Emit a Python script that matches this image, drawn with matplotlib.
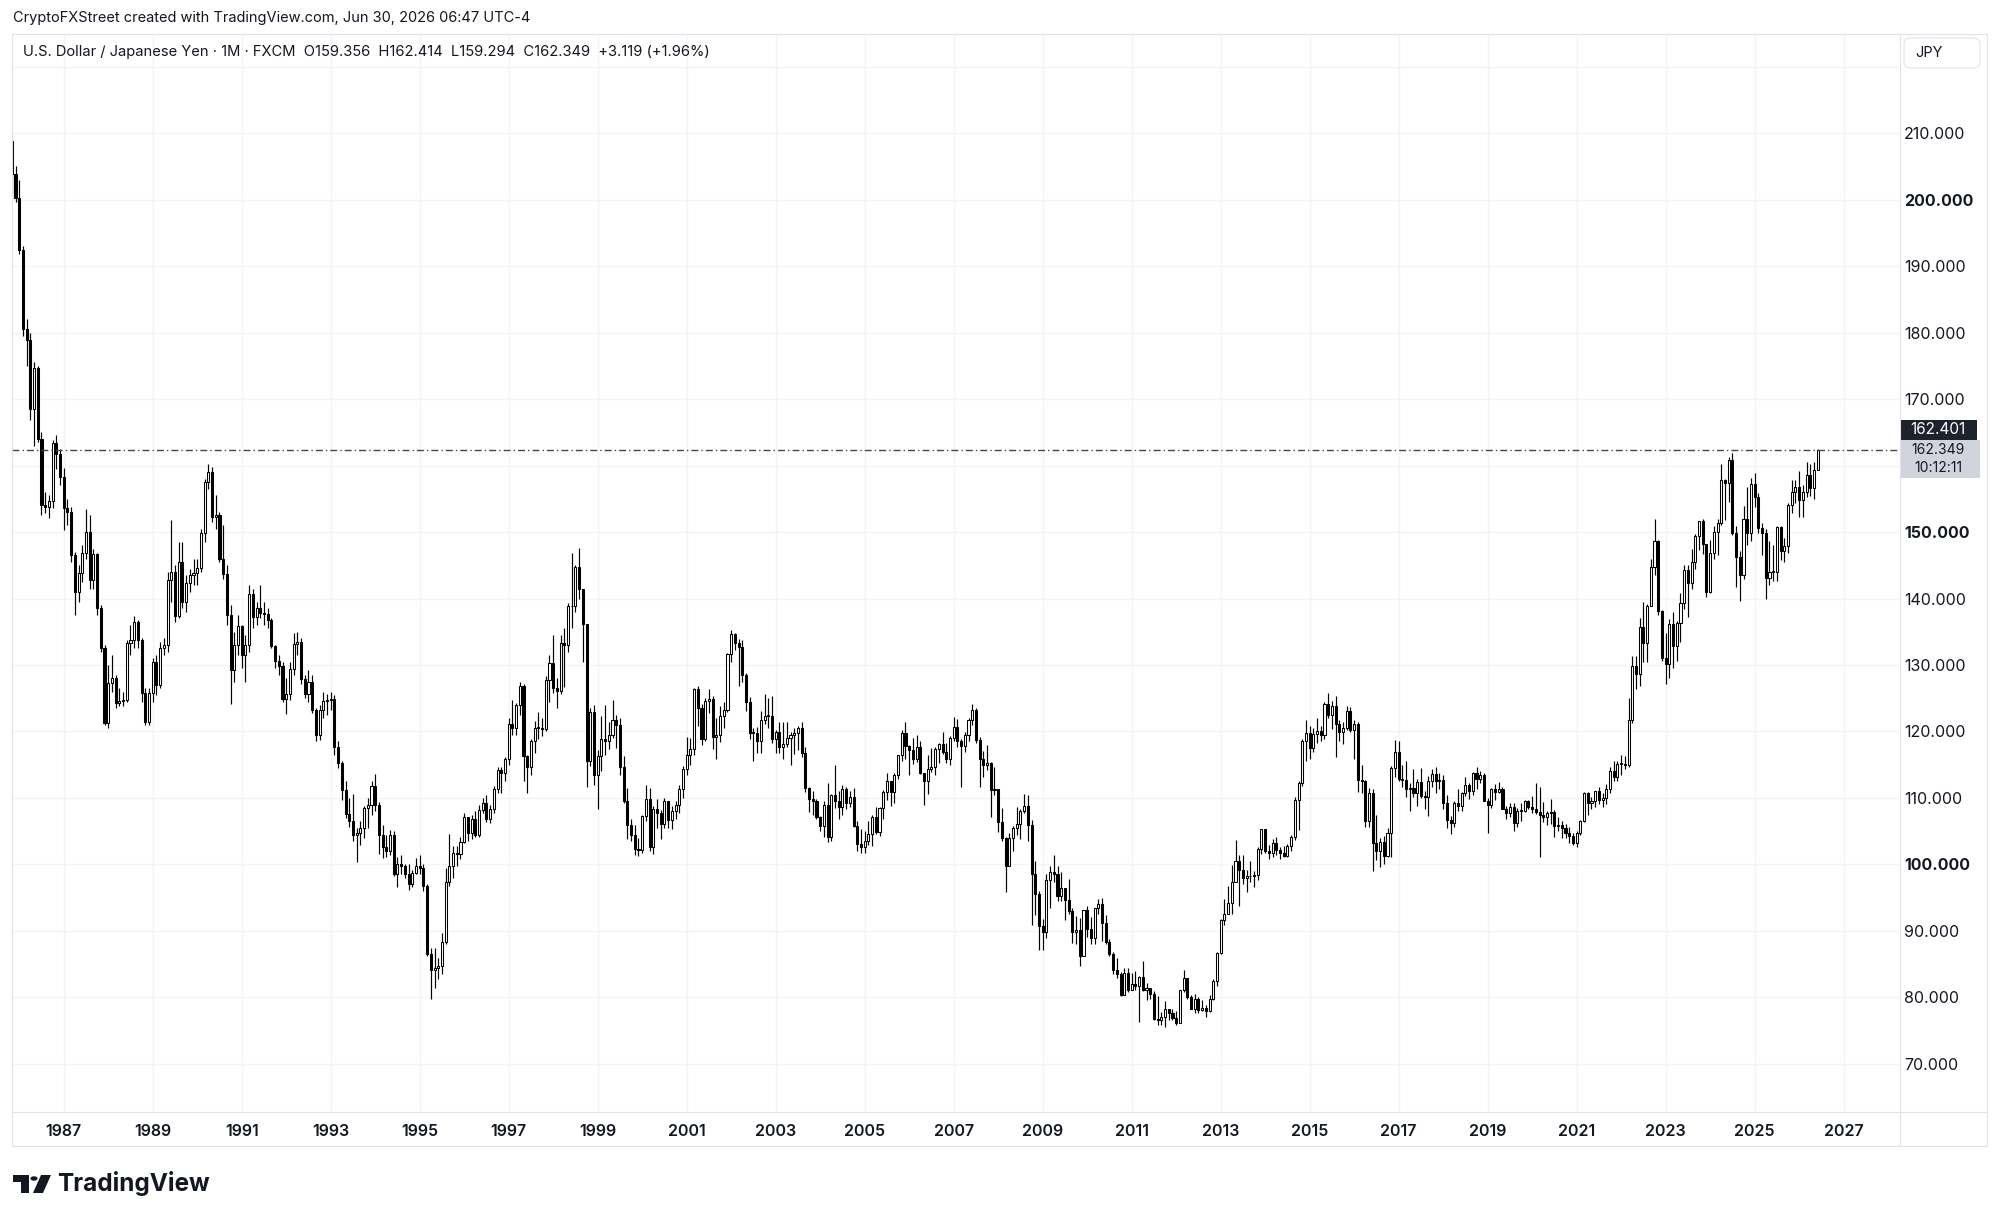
"""USD/JPY monthly candles, FXCM, Nov 1985 - Jun 2026 (TradingView look)."""

import matplotlib

matplotlib.use("Agg")
import matplotlib.pyplot as plt
import numpy as np
from matplotlib.lines import Line2D
from matplotlib.patches import Circle, FancyBboxPatch, Polygon, Rectangle

W, H = 2000, 1221
plt.rcParams["font.family"] = ["Inter", "DejaVu Sans"]

TITLE = "CryptoFXStreet created with TradingView.com, Jun 30, 2026 06:47 UTC-4"
LEGEND = ("U.S. Dollar / Japanese Yen \u00b7 1M \u00b7 FXCM  O159.356  H162.414  "
          "L159.294  C162.349  +3.119 (+1.96%)")
CURRENCY = "JPY"
LAST_PRICE = 162.349
HIGH_TAG = "162.401"
COUNTDOWN = "10:12:11"
OPEN_FIRST = 208.8  # open of the first (Nov 1985) candle

# monthly closes, one row per year; first row is Nov-Dec 1985, last is Jan-Jun 2026
CLOSE = [
    203.8, 200.3,
    192.4, 180.6, 178.8, 168.5, 174.6, 164.0, 154.0, 153.8, 154.7, 163.4, 161.8, 158.2,
    153.6, 153.0, 146.5, 141.0, 143.8, 146.8, 150.0, 142.8, 146.7, 138.6, 132.6, 121.3,
    127.3, 128.0, 124.3, 124.6, 124.8, 133.3, 133.8, 136.5, 133.8, 125.8, 121.4, 125.8,
    130.5, 127.0, 132.5, 133.0, 142.8, 144.0, 137.3, 145.5, 139.5, 142.3, 143.5, 143.8,
    144.6, 149.8, 157.5, 159.0, 152.3, 152.6, 146.0, 143.7, 137.5, 129.3, 133.0, 135.8,
    131.5, 133.0, 140.7, 137.2, 138.5, 137.8, 137.7, 136.7, 132.9, 130.6, 129.8, 124.9,
    125.6, 129.4, 133.1, 133.4, 127.9, 125.6, 127.4, 123.3, 119.4, 123.3, 124.6, 124.8,
    124.9, 117.7, 115.3, 111.2, 107.6, 106.5, 104.5, 104.7, 105.5, 108.5, 109.0, 111.8,
    109.0, 104.5, 102.6, 102.0, 104.5, 98.6, 100.0, 99.7, 98.5, 97.0, 98.7, 99.7,
    99.5, 96.8, 86.6, 84.2, 84.5, 84.7, 88.3, 97.3, 99.8, 101.8, 101.6, 103.4,
    107.1, 104.8, 106.8, 104.5, 108.2, 109.3, 106.8, 108.4, 111.4, 114.2, 113.7, 115.8,
    121.1, 120.5, 124.0, 126.8, 116.3, 114.6, 118.5, 120.6, 120.6, 120.4, 127.8, 130.3,
    126.6, 126.1, 133.3, 133.0, 138.9, 138.8, 144.7, 141.5, 136.2, 115.5, 123.0, 113.4,
    116.3, 118.8, 118.6, 119.5, 121.7, 121.0, 114.6, 109.6, 106.0, 104.5, 102.3, 102.2,
    107.3, 109.9, 102.6, 108.3, 107.7, 106.1, 109.5, 106.7, 108.1, 108.9, 111.3, 114.4,
    116.5, 117.3, 126.4, 123.6, 118.9, 124.6, 124.9, 119.1, 119.4, 122.3, 123.3, 131.6,
    134.6, 133.3, 132.7, 128.5, 124.4, 119.8, 119.8, 118.6, 121.8, 122.4, 122.4, 118.8,
    119.9, 117.6, 118.1, 119.0, 119.4, 119.8, 120.5, 116.8, 111.5, 109.8, 109.6, 107.2,
    105.8, 109.0, 104.2, 110.4, 109.5, 108.7, 111.3, 109.2, 110.1, 105.8, 103.1, 102.6,
    103.6, 104.6, 107.2, 104.9, 108.5, 110.9, 112.6, 110.9, 113.4, 116.4, 119.7, 117.8,
    117.2, 115.8, 117.7, 113.8, 112.6, 114.4, 114.6, 117.3, 118.1, 116.9, 115.8, 119.0,
    120.7, 118.6, 117.8, 119.5, 121.7, 123.2, 118.7, 115.8, 114.9, 115.3, 111.2, 111.4,
    106.4, 104.0, 99.7, 104.0, 105.5, 106.1, 108.1, 108.8, 106.0, 98.5, 95.5, 90.7,
    89.9, 97.6, 98.9, 98.6, 95.3, 96.4, 94.7, 93.0, 89.8, 90.1, 86.3, 93.1,
    90.3, 88.9, 93.5, 94.0, 91.2, 88.4, 86.5, 84.2, 83.5, 80.4, 83.7, 81.1,
    82.0, 81.8, 83.1, 81.2, 81.5, 80.5, 76.7, 76.6, 77.0, 78.2, 77.6, 76.9,
    76.2, 81.2, 82.9, 80.0, 78.3, 79.8, 78.1, 78.4, 77.9, 79.8, 82.5, 86.7,
    91.7, 92.6, 94.2, 97.4, 100.5, 99.1, 97.9, 98.2, 98.3, 98.4, 102.4, 105.3,
    102.0, 101.8, 103.2, 102.2, 101.8, 101.3, 102.8, 104.1, 109.7, 112.3, 118.6, 119.8,
    117.5, 119.6, 120.1, 119.4, 124.1, 122.5, 123.9, 121.2, 119.9, 120.6, 123.1, 120.2,
    121.1, 112.7, 112.6, 106.5, 110.7, 103.2, 102.1, 103.4, 101.3, 104.8, 114.5, 116.9,
    112.8, 112.7, 111.4, 111.5, 110.8, 112.4, 110.3, 110.1, 112.5, 113.6, 112.5, 112.7,
    109.2, 106.7, 106.3, 109.3, 108.8, 110.7, 111.9, 111.0, 113.7, 112.9, 113.5, 109.6,
    108.9, 111.4, 110.9, 111.4, 108.3, 107.8, 108.7, 106.3, 108.1, 108.0, 109.5, 108.6,
    108.4, 107.9, 107.5, 107.2, 107.8, 107.9, 105.8, 105.9, 105.5, 104.7, 104.3, 103.2,
    104.7, 106.6, 110.7, 109.3, 109.6, 111.1, 109.7, 110.0, 111.3, 114.0, 113.2, 115.1,
    115.1, 115.0, 121.7, 129.8, 128.7, 135.7, 133.3, 138.9, 144.7, 148.7, 138.1, 131.1,
    130.1, 136.2, 132.8, 136.3, 139.3, 144.3, 142.3, 145.5, 149.4, 151.7, 148.2, 141.0,
    146.9, 150.0, 151.3, 157.8, 157.3, 160.9, 149.9, 146.2, 143.6, 152.0, 149.8, 157.2,
    155.2, 150.6, 149.9, 143.1, 144.0, 144.0, 150.7, 147.1, 147.9, 154.0, 156.0, 156.7,
    154.8, 156.0, 158.6, 156.6, 159.356, 162.349,
]

HIGH = [
    208.8, 205.0,
    203.0, 193.0, 182.0, 180.0, 175.5, 175.0, 165.0, 156.0, 155.6, 163.8, 164.6, 162.5,
    159.6, 155.0, 153.8, 147.0, 145.0, 148.0, 153.5, 152.5, 147.5, 146.8, 139.0, 133.0,
    130.0, 131.5, 128.5, 126.5, 126.0, 133.8, 136.0, 137.3, 136.8, 134.0, 126.5, 126.5,
    131.0, 131.5, 133.5, 134.0, 144.0, 151.8, 145.0, 148.5, 148.5, 143.5, 144.5, 146.0,
    146.0, 150.5, 158.0, 160.3, 159.8, 155.5, 153.0, 151.0, 145.0, 139.0, 135.0, 137.5,
    136.0, 134.5, 142.0, 141.5, 139.5, 142.0, 139.5, 138.5, 137.0, 133.0, 131.5, 130.5,
    128.0, 130.5, 134.8, 135.0, 134.0, 128.5, 129.3, 128.5, 123.5, 124.0, 126.0, 125.7,
    126.0, 125.5, 118.5, 115.6, 112.5, 110.0, 110.6, 105.5, 106.5, 108.8, 110.0, 112.6,
    113.6, 109.4, 106.0, 104.5, 105.2, 105.0, 101.2, 101.5, 100.0, 100.0, 99.2, 101.0,
    101.5, 100.0, 97.0, 87.5, 87.5, 86.0, 89.7, 99.5, 104.6, 102.8, 102.8, 104.2,
    107.8, 107.2, 107.5, 108.0, 109.0, 110.0, 110.5, 109.0, 111.8, 114.6, 114.6, 116.2,
    122.0, 124.8, 124.3, 127.5, 127.1, 116.5, 118.8, 121.6, 123.0, 122.0, 128.3, 131.5,
    134.5, 128.0, 134.5, 135.6, 139.3, 146.8, 145.0, 147.6, 140.5, 136.0, 123.5, 124.0,
    117.2, 122.4, 124.0, 121.4, 124.7, 122.5, 122.0, 116.3, 111.5, 106.9, 106.0, 104.0,
    107.5, 112.0, 111.5, 108.8, 109.8, 108.2, 110.0, 109.5, 108.8, 109.5, 111.9, 114.8,
    119.2, 119.0, 126.5, 126.8, 124.2, 125.0, 126.4, 125.3, 122.0, 123.8, 124.4, 131.8,
    135.2, 134.8, 133.9, 133.8, 128.8, 125.2, 120.5, 120.7, 123.1, 125.7, 125.0, 125.3,
    120.2, 121.5, 121.4, 121.5, 119.9, 120.5, 120.9, 121.5, 117.6, 111.7, 111.1, 109.8,
    107.3, 109.6, 112.2, 110.6, 114.9, 111.0, 112.0, 111.7, 111.0, 111.5, 106.6, 105.3,
    105.0, 106.6, 107.4, 108.7, 108.6, 111.2, 113.8, 112.4, 113.8, 116.4, 120.2, 121.4,
    118.0, 119.0, 119.4, 118.6, 113.5, 116.5, 117.5, 117.7, 118.3, 119.9, 118.2, 119.3,
    122.2, 121.9, 118.9, 119.9, 122.1, 124.1, 123.6, 119.2, 117.0, 117.9, 115.4, 114.6,
    111.4, 108.5, 104.1, 104.8, 105.8, 108.6, 108.3, 110.6, 110.5, 106.7, 100.5, 96.0,
    91.8, 98.5, 99.8, 101.4, 99.8, 98.9, 96.1, 97.8, 93.4, 92.3, 91.9, 93.1,
    93.8, 92.1, 93.5, 94.8, 94.9, 92.4, 88.8, 86.9, 85.9, 83.8, 84.4, 84.5,
    83.7, 84.0, 83.3, 85.5, 82.2, 81.5, 81.0, 80.2, 77.8, 79.5, 78.3, 78.2,
    77.9, 81.2, 84.2, 83.0, 80.4, 80.6, 80.0, 79.6, 78.9, 80.3, 82.8, 86.8,
    91.8, 94.8, 96.7, 99.9, 103.7, 101.5, 101.5, 99.1, 100.6, 99.0, 102.6, 105.4,
    105.4, 103.0, 103.8, 104.1, 102.7, 102.8, 103.1, 104.5, 110.1, 112.5, 118.9, 121.8,
    120.8, 120.5, 122.0, 120.8, 124.5, 125.8, 124.6, 125.3, 121.7, 121.5, 123.8, 123.7,
    121.7, 121.5, 114.9, 112.7, 111.5, 111.4, 107.5, 104.0, 104.3, 105.5, 114.8, 118.7,
    118.6, 114.9, 115.5, 112.2, 114.4, 112.9, 114.5, 111.0, 113.3, 114.4, 114.7, 113.7,
    113.4, 110.5, 107.3, 109.6, 111.4, 110.9, 113.2, 112.2, 113.9, 114.6, 114.0, 113.8,
    110.0, 111.5, 112.1, 112.4, 111.7, 108.8, 109.3, 109.3, 108.5, 109.3, 109.7, 109.7,
    110.3, 112.2, 111.7, 109.4, 108.1, 109.9, 108.2, 107.1, 106.6, 106.1, 105.7, 104.8,
    105.0, 106.7, 110.9, 110.9, 110.2, 111.1, 111.7, 110.8, 112.1, 114.7, 115.5, 115.5,
    116.4, 116.3, 125.1, 131.3, 131.3, 137.0, 139.4, 139.1, 145.9, 151.9, 148.8, 138.2,
    134.8, 136.9, 137.9, 136.6, 140.9, 145.1, 145.0, 147.4, 149.7, 151.7, 151.9, 148.2,
    148.8, 150.9, 151.9, 160.2, 157.9, 161.3, 161.9, 150.9, 147.2, 153.9, 156.7, 158.1,
    158.9, 155.9, 151.3, 150.5, 148.6, 148.0, 150.9, 150.9, 149.1, 154.4, 157.8, 157.8,
    159.2, 157.0, 160.6, 160.2, 160.6, 162.414,
]

LOW = [
    200.1, 199.6,
    191.8, 179.5, 175.0, 166.8, 163.0, 163.5, 152.6, 152.8, 152.1, 153.6, 159.5, 157.0,
    150.3, 151.0, 145.5, 137.5, 139.5, 142.5, 146.0, 141.5, 141.5, 137.5, 132.0, 121.0,
    120.5, 126.0, 123.5, 123.8, 123.8, 124.5, 131.5, 132.5, 132.5, 124.5, 121.0, 121.0,
    124.5, 125.5, 126.5, 131.5, 132.0, 139.5, 136.5, 137.0, 138.5, 138.0, 141.0, 142.0,
    142.0, 144.0, 148.5, 156.5, 151.5, 150.5, 145.5, 143.0, 136.0, 124.2, 127.5, 131.5,
    129.5, 127.5, 132.0, 135.5, 136.0, 137.0, 136.0, 135.5, 132.5, 129.5, 128.5, 124.5,
    122.6, 124.8, 128.5, 131.5, 127.2, 125.0, 124.5, 122.8, 118.6, 118.7, 122.0, 122.5,
    123.3, 116.5, 114.5, 109.7, 107.0, 105.7, 103.5, 100.3, 103.0, 104.0, 105.5, 107.5,
    108.0, 101.6, 101.0, 101.2, 101.4, 98.2, 96.6, 98.6, 98.0, 96.2, 96.6, 98.6,
    98.5, 96.0, 86.3, 79.8, 81.5, 82.8, 83.6, 88.0, 96.7, 98.0, 99.8, 100.8,
    103.2, 103.6, 103.9, 104.2, 104.2, 107.8, 106.4, 106.3, 107.8, 110.8, 110.8, 112.6,
    115.0, 119.5, 119.5, 122.5, 112.6, 110.7, 113.5, 116.8, 118.8, 119.3, 120.0, 124.5,
    125.8, 123.5, 125.6, 126.7, 132.0, 135.5, 138.0, 140.0, 130.4, 111.6, 114.8, 112.0,
    108.3, 114.0, 116.4, 117.3, 119.0, 117.5, 113.5, 109.2, 103.8, 103.6, 101.4, 101.3,
    101.8, 106.6, 102.0, 101.6, 105.5, 103.8, 105.5, 105.5, 105.3, 106.9, 107.8, 110.0,
    113.5, 115.0, 116.5, 120.8, 118.0, 118.5, 122.8, 117.3, 115.8, 118.4, 120.6, 122.9,
    130.4, 132.2, 126.8, 127.5, 123.1, 118.9, 115.5, 116.8, 116.8, 121.2, 120.6, 118.2,
    116.7, 116.8, 115.9, 117.7, 115.0, 116.6, 117.2, 116.2, 110.9, 107.9, 107.4, 106.8,
    105.1, 104.2, 103.4, 103.6, 108.5, 106.8, 107.4, 108.3, 108.6, 105.7, 102.1, 101.8,
    101.7, 103.0, 102.8, 104.6, 104.3, 106.9, 109.7, 108.8, 109.2, 112.8, 115.6, 115.8,
    113.4, 115.1, 115.4, 113.6, 109.0, 110.6, 113.9, 113.5, 115.3, 116.6, 115.2, 114.9,
    118.5, 117.7, 111.6, 116.9, 118.6, 121.0, 118.2, 111.6, 113.2, 114.2, 107.2, 110.4,
    104.9, 103.6, 95.8, 99.8, 102.0, 104.4, 103.8, 107.8, 103.5, 90.9, 92.4, 87.1,
    87.1, 88.9, 93.5, 97.3, 94.5, 94.5, 91.7, 92.6, 88.2, 88.0, 84.8, 86.2,
    89.1, 88.1, 88.1, 92.5, 88.5, 88.1, 86.3, 83.6, 82.9, 80.2, 80.3, 80.9,
    81.2, 81.1, 76.3, 81.0, 79.6, 79.7, 76.6, 75.9, 75.9, 75.6, 76.6, 76.6,
    75.9, 76.1, 80.9, 79.8, 78.2, 77.7, 77.7, 77.9, 77.1, 77.8, 79.6, 81.7,
    86.6, 90.9, 92.6, 92.6, 97.3, 93.8, 97.0, 95.8, 97.4, 96.6, 97.6, 101.6,
    101.8, 100.8, 101.2, 101.4, 100.8, 101.1, 101.1, 102.0, 103.7, 105.2, 111.8, 115.6,
    115.9, 116.9, 118.3, 118.5, 118.9, 122.0, 120.4, 116.2, 118.6, 118.1, 120.3, 119.9,
    115.9, 110.9, 110.7, 105.6, 105.6, 99.0, 100.7, 99.6, 100.1, 101.2, 101.2, 113.1,
    112.5, 111.6, 110.1, 108.1, 110.2, 108.8, 110.0, 108.3, 107.3, 111.7, 110.8, 111.4,
    108.3, 105.5, 104.6, 105.7, 108.1, 108.1, 110.3, 109.8, 110.4, 111.4, 112.3, 109.5,
    104.7, 108.5, 109.7, 110.8, 108.3, 106.8, 107.2, 105.1, 105.7, 106.5, 107.9, 108.4,
    107.7, 107.6, 101.2, 106.4, 105.9, 106.1, 104.2, 105.1, 104.0, 104.0, 103.2, 102.9,
    102.6, 104.4, 106.4, 107.5, 108.3, 108.6, 109.1, 108.7, 109.1, 110.8, 112.5, 112.6,
    113.5, 114.4, 114.6, 121.3, 126.4, 126.9, 130.4, 130.4, 138.8, 143.5, 137.5, 130.6,
    127.2, 128.1, 129.6, 130.6, 133.5, 138.4, 137.2, 141.5, 144.5, 147.3, 146.7, 140.3,
    140.8, 145.9, 146.5, 151.0, 151.8, 154.5, 149.6, 141.7, 139.6, 142.9, 148.0, 148.7,
    153.7, 149.9, 146.5, 139.9, 142.1, 142.7, 142.7, 145.8, 145.5, 146.9, 152.9, 154.3,
    152.3, 152.3, 155.2, 155.4, 155.0, 159.294,
]

YEAR_LABELS = [str(y) for y in range(1987, 2029, 2)]
PRICE_TICKS = list(range(70, 230, 10))
HIDDEN_PRICE_LABELS = [160, 220]  # covered by the price tag / currency button

INK = "#131722"
GRID = "#f3f4f7"
FRAME = "#e0e3eb"


def fx(px):
    return px / W


def fy(py):
    return 1 - py / H


closes = np.array(CLOSE)
highs = np.array(HIGH)
lows = np.array(LOW)
assert len(closes) == len(highs) == len(lows) == 488, (len(closes), len(highs), len(lows))
opens = np.concatenate([[OPEN_FIRST], closes[:-1]])
months = np.arange(len(closes))  # 0 = Nov 1985
year_pos = [14 + 24 * k for k in range(len(YEAR_LABELS))]  # Jan of each odd year

fig = plt.figure(figsize=(W / 100, H / 100), dpi=100)
ax = fig.add_axes([fx(12), fy(1112), fx(1900) - fx(12), fy(34) - fy(1112)])
ax.set_xlim(0.05, 509.2)
ax.set_ylim(62.78, 224.89)

# candles: wick behind, black body for down months, white body for up months
up = closes >= opens
wick_lo = np.minimum(lows, np.minimum(opens, closes))
wick_hi = np.maximum(highs, np.maximum(opens, closes))
ax.vlines(months, wick_lo, wick_hi, color="black", lw=0.85, zorder=3)
body_lo = np.minimum(opens, closes)
body_h = np.maximum(np.abs(closes - opens), 0.12)
ax.bar(months[up], body_h[up], bottom=body_lo[up], width=0.56, color="white",
       edgecolor="black", linewidth=0.75, zorder=4)
ax.bar(months[~up], body_h[~up], bottom=body_lo[~up], width=0.56, color="black",
       edgecolor="black", linewidth=0.75, zorder=4)

ax.axhline(LAST_PRICE, color="#434651", lw=1.0, ls=(0, (5, 2.2, 1, 2.2)), zorder=5)

# grid and scales
ax.set_yticks(PRICE_TICKS)
ax.set_yticklabels(["" if p in HIDDEN_PRICE_LABELS else f"{p:.3f}" for p in PRICE_TICKS])
ax.yaxis.tick_right()
ax.tick_params(axis="y", length=0, pad=3, labelsize=11.5, labelcolor=INK)
for p, lab in zip(PRICE_TICKS, ax.get_yticklabels()):
    if p % 50 == 0:
        lab.set_fontweight("bold")
ax.set_xticks(year_pos)
ax.set_xticklabels(YEAR_LABELS, fontweight="semibold")
ax.tick_params(axis="x", length=0, pad=9, labelsize=11.5, labelcolor=INK)
ax.grid(True, color=GRID, lw=1.0, zorder=0)
ax.set_axisbelow(True)
for s in ax.spines.values():
    s.set_visible(False)

# chart frame
for (x0, y0, x1, y1) in [(12, 34, 1987, 34), (12, 1112, 1987, 1112), (12, 1146, 1987, 1146),
                         (12, 34, 12, 1146), (1900, 34, 1900, 1146), (1987, 34, 1987, 1146)]:
    fig.add_artist(Line2D([fx(x0), fx(x1)], [fy(y0), fy(y1)], color=FRAME, lw=0.8))

# header and legend
fig.text(fx(13), fy(18), TITLE, fontsize=10.5, color=INK, va="center", ha="left")
fig.text(fx(23), fy(52), LEGEND, fontsize=10.6, color=INK, va="center", ha="left")

# currency button
fig.add_artist(FancyBboxPatch((fx(1904), fy(68)), fx(1980) - fx(1904), fy(38) - fy(68),
                              boxstyle="round,pad=0,rounding_size=0.004",
                              facecolor="white", edgecolor=FRAME, lw=0.8))
fig.text(fx(1915), fy(53), CURRENCY, fontsize=10.5, color=INK, va="center", ha="left")

# price tags on the scale
fig.add_artist(Rectangle((fx(1900), fy(440)), fx(1977) - fx(1900), fy(420) - fy(440),
                         facecolor="#1e222d", edgecolor="none"))
fig.text(fx(1938), fy(430), HIGH_TAG, fontsize=11, color="white", va="center", ha="center")
fig.add_artist(Rectangle((fx(1900), fy(478)), fx(1980) - fx(1900), fy(440) - fy(478),
                         facecolor="#d1d4dc", edgecolor="none"))
fig.text(fx(1938), fy(449.5), f"{LAST_PRICE:.3f}", fontsize=10, color=INK, va="center", ha="center")
fig.text(fx(1938), fy(468.5), COUNTDOWN, fontsize=10, color=INK, va="center", ha="center")

# TradingView logo
fig.add_artist(Polygon([(fx(13), fy(1175)), (fx(29), fy(1175)), (fx(29), fy(1193)),
                        (fx(21), fy(1193)), (fx(21), fy(1182)), (fx(13), fy(1182))],
                       closed=True, facecolor=INK, edgecolor="none"))
fig.add_artist(Circle((fx(34), fy(1178.5)), fx(3.6), facecolor=INK, edgecolor="none",
                      transform=fig.transFigure))
fig.add_artist(Polygon([(fx(41), fy(1175)), (fx(51), fy(1175)), (fx(43), fy(1193)),
                        (fx(33), fy(1193))], closed=True, facecolor=INK, edgecolor="none"))
fig.text(fx(57), fy(1184), "TradingView", fontsize=17.5, fontweight="bold", color=INK,
         va="center", ha="left")

fig.savefig("out.png", dpi=100, facecolor="white")
